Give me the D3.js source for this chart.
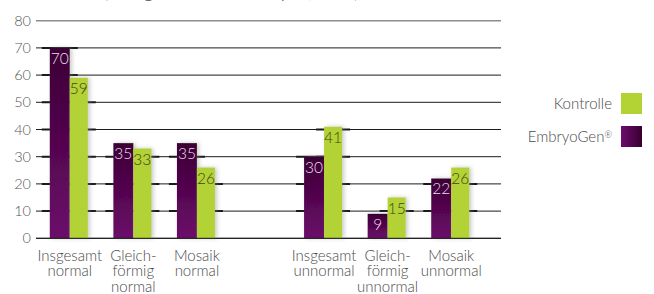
<!DOCTYPE html>
<meta charset="utf-8">
<style>
body { margin: 0; background: #fff; }
svg { font-family: Lato, "Open Sans", sans-serif; font-weight: 300; }
.grid { stroke: #1c1c1c; stroke-width: 1px; }
.grid-top { stroke: #8c8c8c; stroke-width: 1.5px; }
.grid-thick { stroke: #1a1a1a; stroke-width: 2px; }
.tick { fill: #555; font-size: 14.5px; }
.cat { fill: #4a4a4a; font-size: 15px; }
.legend { fill: #4a4a4a; font-size: 15px; }
.val { font-size: 15.5px; }
</style>
<body>
<svg id="chart" width="654" height="294"></svg>
<script src="https://cdnjs.cloudflare.com/ajax/libs/d3/7.8.5/d3.min.js"></script>
<script>

// data
var categories = ["Insgesamt normal", "Gleichförmig normal", "Mosaik normal", "gap",
                  "Insgesamt unnormal", "Gleichförmig unnormal", "Mosaik unnormal"];
var catLines = [["Insgesamt", "normal"], ["Gleich-", "förmig", "normal"], ["Mosaik", "normal"], [],
                ["Insgesamt", "unnormal"], ["Gleich-", "förmig", "unnormal"], ["Mosaik", "unnormal"]];
var embryogen = [70, 35, 35, null, 30, 9, 22];
var kontrolle = [59, 33, 26, null, 41, 15, 26];
var yTicks = [0, 10, 20, 30, 40, 50, 60, 70, 80];

var svg = d3.select("#chart");

var x = d3.scaleBand().domain(categories).range([38, 483]).padding(0);
var y = d3.scaleLinear().domain([0, 80]).range([238.3, 20.7]);

var defs = svg.append("defs");
var gv = defs.append("linearGradient").attr("id", "purpleV").attr("x1", 0).attr("y1", 0).attr("x2", 0).attr("y2", 1);
gv.append("stop").attr("offset", "0%").attr("stop-color", "#3b0034");
gv.append("stop").attr("offset", "100%").attr("stop-color", "#6c0b6a");
var gh = defs.append("linearGradient").attr("id", "purpleH").attr("x1", 0).attr("y1", 0).attr("x2", 1).attr("y2", 0);
gh.append("stop").attr("offset", "0%").attr("stop-color", "#6e0b6d");
gh.append("stop").attr("offset", "100%").attr("stop-color", "#380030");
var sh = defs.append("filter").attr("id", "shadow").attr("x", "-30%").attr("y", "-10%").attr("width", "160%").attr("height", "120%");
sh.append("feDropShadow").attr("dx", 2).attr("dy", 0).attr("stdDeviation", 2)
  .attr("flood-color", "#888").attr("flood-opacity", 0.45);

// title, mostly cut off at the top
svg.append("text")
  .attr("x", 103).attr("y", -2.5)
  .style("font-size", "20px").style("fill", "#444")
  .text("(Die genetische Analyse, in %)");

// y axis labels
svg.append("g").selectAll("text")
  .data(yTicks).join("text")
  .attr("class", "tick")
  .attr("x", 31).attr("y", function(d) { return y(d); })
  .attr("dy", ".35em").attr("text-anchor", "end")
  .text(function(d) { return d; });

// grid lines
svg.append("g").selectAll("line")
  .data(yTicks).join("line")
  .attr("class", function(d) { return d === 80 ? "grid-top" : "grid"; })
  .attr("x1", 36).attr("x2", 501)
  .attr("y1", function(d) { return y(d); }).attr("y2", function(d) { return y(d); });

var bars = [];
categories.forEach(function(c, i) {
  if (embryogen[i] == null) return;
  var cx = x(c) + x.bandwidth() / 2;
  bars.push({ x: cx - 20, w: 20, v: embryogen[i], s: "e" });
  bars.push({ x: cx, w: 18, v: kontrolle[i], s: "k" });
});

// darker grid segments around the bars
var thick = [];
bars.forEach(function(b) {
  yTicks.forEach(function(t) { if (t > 0 && t < 80 && t <= b.v) thick.push({ b: b, t: t }); });
});
svg.append("g").selectAll("line")
  .data(thick).join("line")
  .attr("class", "grid-thick")
  .attr("x1", function(d) { return d.b.x - 8; }).attr("x2", function(d) { return d.b.x + d.b.w + 8; })
  .attr("y1", function(d) { return y(d.t); }).attr("y2", function(d) { return y(d.t); });

// bars
svg.append("g").selectAll("rect")
  .data(bars).join("rect")
  .attr("x", function(d) { return d.x; })
  .attr("width", function(d) { return d.w; })
  .attr("y", function(d) { return y(d.v); })
  .attr("height", function(d) { return y(0) - y(d.v); })
  .attr("fill", function(d) { return d.s === "e" ? "url(#purpleV)" : "#b3d234"; })
  .attr("filter", "url(#shadow)");

// zero line on top
svg.append("line").attr("class", "grid")
  .attr("x1", 36).attr("x2", 501).attr("y1", y(0)).attr("y2", y(0));

// value labels
svg.append("g").selectAll("text")
  .data(bars).join("text")
  .attr("class", "val")
  .attr("x", function(d) { return d.x + d.w / 2; })
  .attr("y", function(d) { return y(d.v) + 16; })
  .attr("text-anchor", "middle")
  .style("fill", function(d) { return d.s === "e" ? "#eadcef" : "#3e4414"; })
  .text(function(d) { return d.v; });

// category labels
var cat = svg.append("g").selectAll("text")
  .data(categories.map(function(c, i) { return { c: c, lines: catLines[i] }; }))
  .join("text")
  .attr("class", "cat")
  .attr("text-anchor", "middle")
  .attr("x", function(d) { return x(d.c) + x.bandwidth() / 2; });
cat.selectAll("tspan")
  .data(function(d) { return d.lines.map(function(l) { return { l: l, x: x(d.c) + x.bandwidth() / 2 }; }); })
  .join("tspan")
  .attr("x", function(d) { return d.x; })
  .attr("y", function(d, i) { return 255.5 + i * 15.7; })
  .attr("dy", ".35em")
  .text(function(d) { return d.l; });

// legend
var legend = [
  { name: "Kontrolle", fill: "#b3d234", y: 93 },
  { name: "EmbryoGen", fill: "url(#purpleH)", y: 126 }
];
var lg = svg.append("g").selectAll("g").data(legend).join("g");
lg.append("rect")
  .attr("x", 621).attr("y", function(d) { return d.y; })
  .attr("width", 21).attr("height", 21)
  .attr("fill", function(d) { return d.fill; });
var lt = lg.append("text")
  .attr("class", "legend")
  .attr("x", 612).attr("y", function(d) { return d.y + 10.5; })
  .attr("dy", ".35em").attr("text-anchor", "end");
lt.append("tspan").text(function(d) { return d.name; });
lt.filter(function(d) { return d.name === "EmbryoGen"; })
  .append("tspan").attr("dy", "-0.45em").style("font-size", "9px").text("®");

</script>
</body>
</html>
